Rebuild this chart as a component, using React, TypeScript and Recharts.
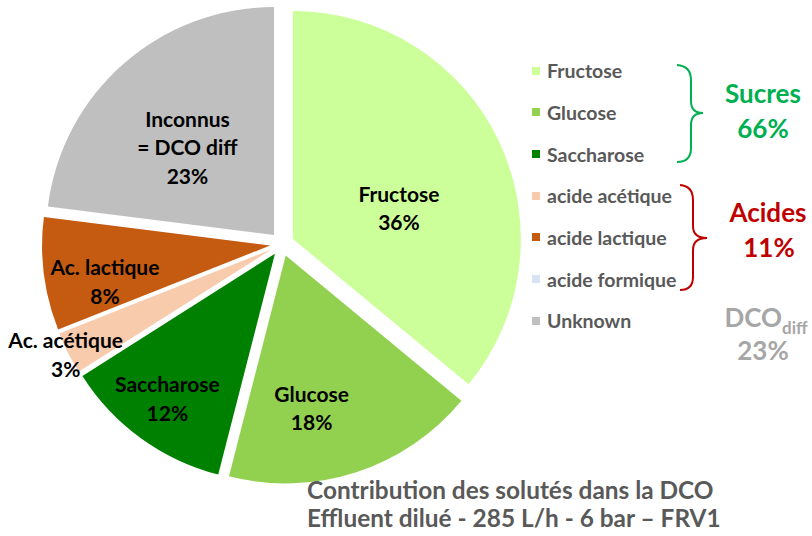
import React from 'react';
import { PieChart, Pie, Cell, Sector, Legend } from 'recharts';

const categories = ['Fructose', 'Glucose', 'Saccharose', 'acide acétique', 'acide lactique', 'acide formique', 'Unknown'];
const values = [36, 18, 12, 3, 8, 0, 23];
const sliceLabels = [['Fructose'], ['Glucose'], ['Saccharose'], ['Ac. acétique'], ['Ac. lactique'], [], ['Inconnus', '= DCO diff']];
const groupNames = ['Sucres', 'Acides'];
const groupValues = [66, 11];
const unknownGroupValue = 23;
const titleLines = ['Contribution des solutés dans la DCO', 'Effluent dilué - 285 L/h - 6 bar – FRV1'];

const colors = ['#CCFF99', '#92D050', '#008000', '#F8CBAD', '#C55A11', '#DAE3F3', '#BFBFBF'];
// label placement style: [fraction of radius from exploded centre, angular shift (deg, clockwise)]
const labelPlacement: [number, number][] = [
  [0.484, 9.2],
  [0.681, 8.4],
  [0.793, 0.5],
  [1.014, -0.2],
  [0.742, -5.3],
  [0.5, 0],
  [0.54, -3.3],
];

const data = categories.map((name, i) => ({ name, value: values[i] }));

const FONT = 'Lato, "Open Sans", sans-serif';
const EXPLODE = 12;
const RAD = Math.PI / 180;
const LABEL_SIZE = 21;

const ExplodedSector = (props: any) => {
  const { cx, cy, midAngle } = props;
  const dx = EXPLODE * Math.cos(-midAngle * RAD);
  const dy = EXPLODE * Math.sin(-midAngle * RAD);
  return <Sector {...props} cx={cx + dx} cy={cy + dy} stroke="none" />;
};

const renderLabel = (p: any) => {
  const { cx, cy, midAngle, outerRadius, index, value } = p;
  if (!value) return null;
  const ecx = cx + EXPLODE * Math.cos(-midAngle * RAD);
  const ecy = cy + EXPLODE * Math.sin(-midAngle * RAD);
  const [frac, shift] = labelPlacement[index];
  const a = midAngle - shift;
  const r = frac * outerRadius;
  const x = ecx + r * Math.cos(-a * RAD);
  const y = ecy + r * Math.sin(-a * RAD);
  const lines = [...sliceLabels[index], `${value}%`];
  const lh = 28.5;
  const capHalf = LABEL_SIZE * 0.36;
  return (
    <text x={x} y={y} textAnchor="middle" fontFamily={FONT} fontWeight={700} fontSize={LABEL_SIZE} fill="#000">
      {lines.map((l, i) => (
        <tspan key={i} x={x} y={y + (i - (lines.length - 1) / 2) * lh + capHalf}>
          {l}
        </tspan>
      ))}
    </text>
  );
};

const LegendContent = (props: any) => {
  const raw = props.payload && props.payload.length ? props.payload : data.map((d, i) => ({ value: d.name, color: colors[i] }));
  const payload = [...raw].sort((a: any, b: any) => categories.indexOf(a.value) - categories.indexOf(b.value));
  return (
    <div style={{ fontFamily: FONT, fontWeight: 700, fontSize: 19.5, color: '#595959' }}>
      {payload.map((e: any, i: number) => (
        <div key={i} style={{ height: 41.67, display: 'flex', alignItems: 'center', whiteSpace: 'nowrap' }}>
          <span style={{ display: 'inline-block', width: 8, height: 8, background: e.color, marginRight: 7 }} />
          <span>{e.value}</span>
        </div>
      ))}
    </div>
  );
};

export default function App() {
  return (
    <div style={{ position: 'absolute', left: 0, top: 0, width: 812, height: 536, background: '#fff' }}>
      <PieChart width={812} height={536} margin={{ top: 0, right: 0, bottom: 0, left: 0 }}>
        <Pie
          data={data}
          dataKey="value"
          nameKey="name"
          cx={282}
          cy={244}
          outerRadius={228}
          startAngle={90}
          endAngle={-270}
          stroke="none"
          shape={ExplodedSector}
          label={renderLabel}
          labelLine={false}
          isAnimationActive={false}
        >
          {data.map((d, i) => (
            <Cell key={d.name} fill={colors[i]} />
          ))}
        </Pie>
        <Legend
          layout="vertical"
          content={<LegendContent />}
          wrapperStyle={{ position: 'absolute', left: 532, top: 50, width: 170, bottom: 'auto', right: 'auto' }}
        />
      </PieChart>
      <svg width={812} height={536} style={{ position: 'absolute', left: 0, top: 0, pointerEvents: 'none' }}>
        <path d="M677,65 Q691,66 691,80 L691,101 Q691,113 703,113 Q691,113 691,125 L691,148 Q691,162 677,162" fill="none" stroke="#00B050" strokeWidth={2} />
        <path d="M680,185 Q693,186 693,200 L693,226 Q693,238 707,238 Q693,238 693,250 L693,277 Q693,290 680,290" fill="none" stroke="#C00000" strokeWidth={2} />
        <g fontFamily={FONT} fontWeight={700} fontSize={26} textAnchor="middle">
          <text x={763} y={103} fill="#00B050">{groupNames[0]}</text>
          <text x={763} y={138} fill="#00B050">{groupValues[0]}%</text>
          <text x={768} y={222} fill="#C00000">{groupNames[1]}</text>
          <text x={769} y={257} fill="#C00000">{groupValues[1]}%</text>
          <text x={766} y={327} fill="#A6A6A6">
            DCO<tspan fontSize={17} dy={7}>diff</tspan>
          </text>
          <text x={763} y={360} fill="#A6A6A6">{unknownGroupValue}%</text>
        </g>
        <g fontFamily={FONT} fontWeight={700} fontSize={24.4} fill="#595959">
          {titleLines.map((t, i) => (
            <text key={i} x={307} y={499 + i * 28}>{t}</text>
          ))}
        </g>
      </svg>
    </div>
  );
}
